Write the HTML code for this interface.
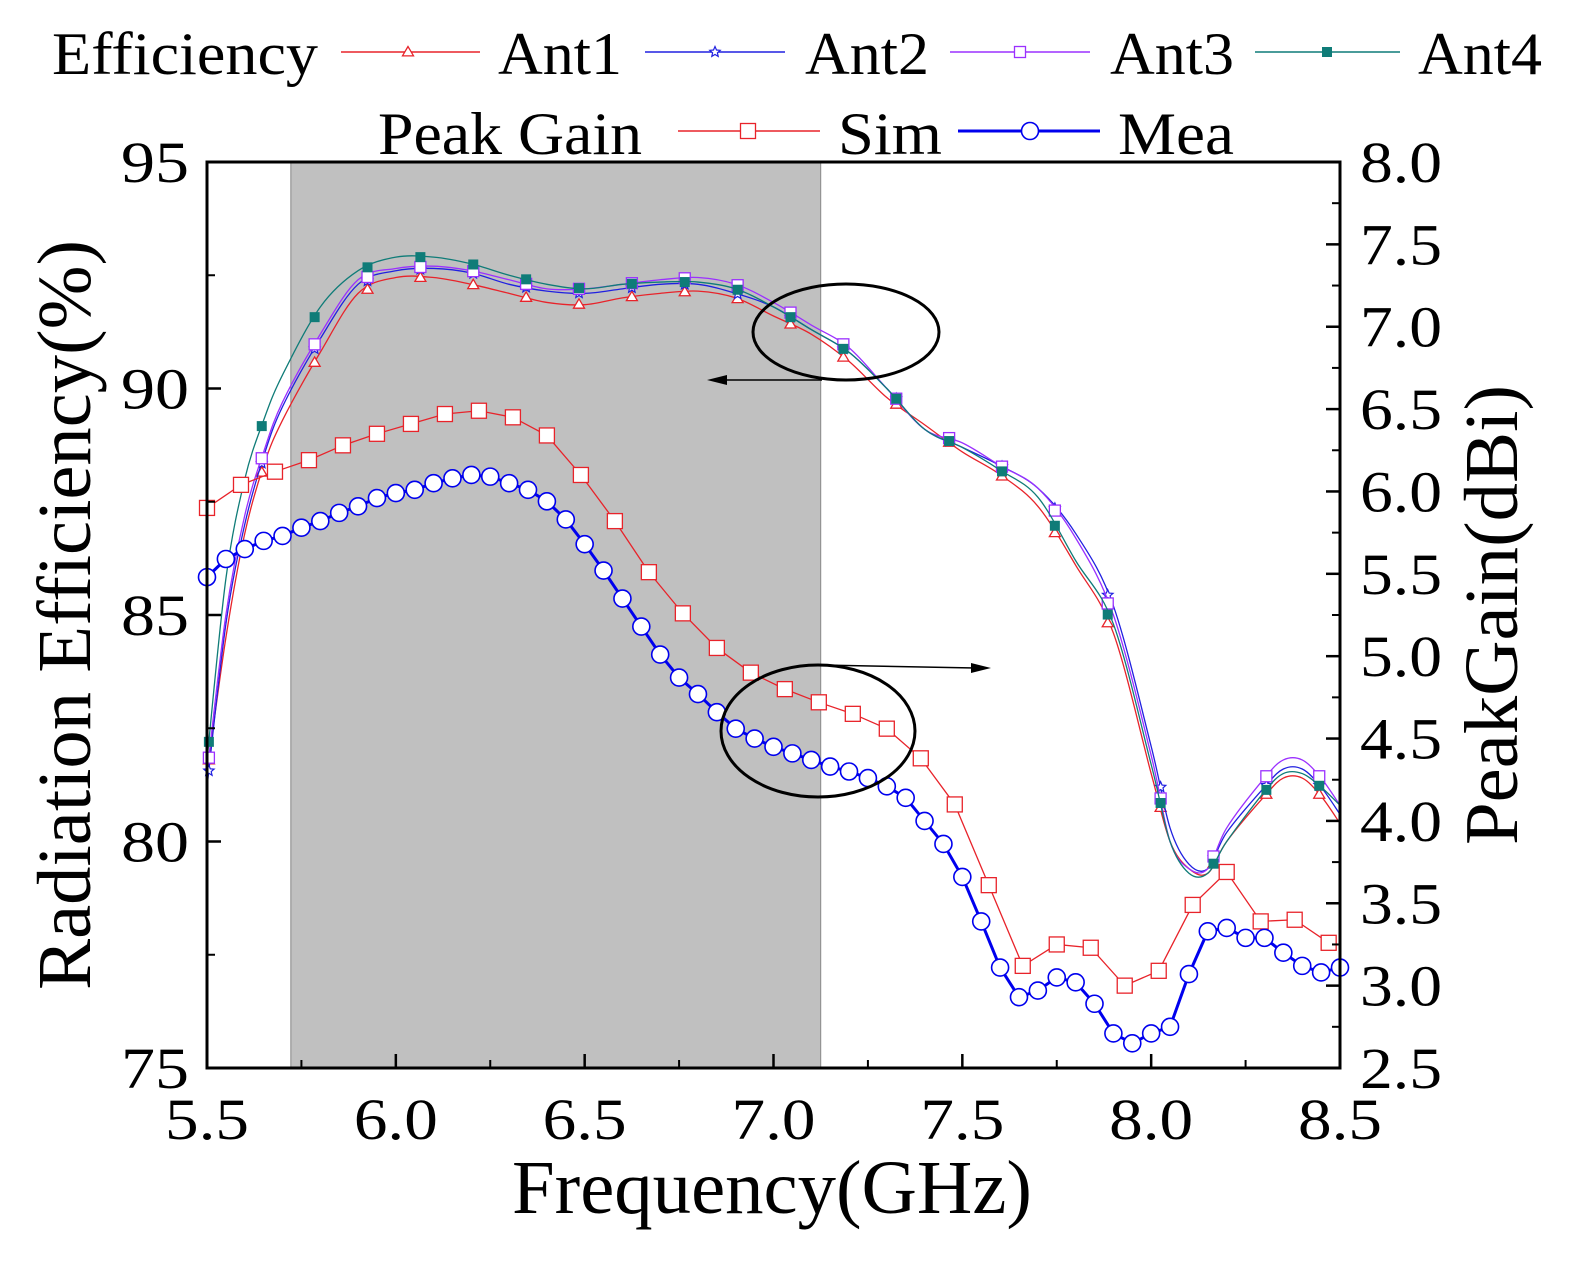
<!DOCTYPE html>
<html><head><meta charset="utf-8"><style>
html,body{margin:0;padding:0;background:#fff}
svg text{font-family:"Liberation Serif",serif;fill:#000}
</style></head><body>
<svg id="c" width="1590" height="1273" viewBox="0 0 1590 1273" xmlns="http://www.w3.org/2000/svg"></svg>
<script>
const effFreq=[5.5,5.55,5.6,5.65,5.7,5.8,5.9,6.0,6.1,6.2,6.3,6.4,6.5,6.6,6.7,6.8,6.9,7.0,7.1,7.2,7.3,7.4,7.5,7.6,7.7,7.8,7.9,8.0,8.05,8.1,8.15,8.2,8.3,8.35,8.4,8.45,8.5];
const ant1=[81.5,84.5,86.8,88.3,89.3,90.8,92.1,92.45,92.45,92.3,92.1,91.9,91.85,92.0,92.1,92.15,92.0,91.6,91.2,90.6,89.8,89.2,88.6,88.1,87.4,86.1,84.6,81.5,80.0,79.4,79.3,80.0,81.0,81.4,81.4,81.0,80.4];
const ant2=[81.2,84.8,87.0,88.5,89.6,91.1,92.3,92.6,92.65,92.55,92.3,92.15,92.1,92.2,92.3,92.3,92.1,91.8,91.3,90.8,90.0,89.1,88.7,88.3,87.8,86.8,85.2,82.1,80.3,79.5,79.4,80.2,81.2,81.6,81.6,81.2,80.6];
const ant3=[81.5,85.0,87.2,88.6,89.7,91.2,92.4,92.65,92.7,92.6,92.4,92.2,92.2,92.3,92.4,92.45,92.3,91.9,91.4,90.9,90.0,89.1,88.8,88.3,87.8,86.7,85.0,81.9,80.0,79.4,79.4,80.3,81.4,81.8,81.8,81.4,80.8];
const ant4=[81.8,85.8,88.0,89.3,90.3,91.8,92.6,92.9,92.9,92.75,92.5,92.3,92.2,92.3,92.35,92.35,92.2,91.8,91.3,90.8,90.0,89.1,88.7,88.2,87.6,86.2,84.8,81.7,80.0,79.3,79.3,80.0,81.1,81.5,81.5,81.2,80.8];
const simStart=5.5, simStep=0.09;
const simGain=[5.90,6.04,6.12,6.19,6.28,6.35,6.41,6.47,6.49,6.45,6.34,6.10,5.82,5.51,5.26,5.05,4.90,4.80,4.72,4.65,4.56,4.38,4.10,3.61,3.12,3.25,3.23,3.00,3.09,3.49,3.69,3.39,3.40,3.26];
const meaStart=5.5, meaStep=0.05;
const meaGain=[5.48,5.59,5.65,5.70,5.73,5.78,5.82,5.87,5.91,5.96,5.99,6.01,6.05,6.08,6.10,6.09,6.05,6.01,5.94,5.83,5.68,5.52,5.35,5.18,5.01,4.87,4.77,4.66,4.56,4.50,4.45,4.41,4.37,4.33,4.30,4.26,4.21,4.14,4.00,3.86,3.66,3.39,3.11,2.93,2.97,3.05,3.02,2.89,2.71,2.65,2.71,2.75,3.07,3.33,3.35,3.29,3.29,3.20,3.12,3.08,3.11];
const xTicks=[5.5,6.0,6.5,7.0,7.5,8.0,8.5];
const yTicks=[75,80,85,90,95];
const y2Ticks=[2.5,3.0,3.5,4.0,4.5,5.0,5.5,6.0,6.5,7.0,7.5,8.0];

const L=207,R=1340,T=162,B=1068;
const X=f=>L+(f-5.5)/3*(R-L);
const Y=v=>B-(v-75)/20*(B-T);
const Y2=v=>B-(v-2.5)/5.5*(B-T);
const svg=document.getElementById('c');
const NS='http://www.w3.org/2000/svg';
function el(tag,attrs,parent){const e=document.createElementNS(NS,tag);for(const k in attrs)e.setAttribute(k,attrs[k]);(parent||svg).appendChild(e);return e;}
function txt(s,x,y,size,anchor,parent,len){const a={x:x,y:y,'font-size':size,'text-anchor':anchor||'start'};if(len){a.textLength=len;a.lengthAdjust='spacingAndGlyphs';}const t=el('text',a,parent);t.textContent=s;return t;}

const band=el('rect',{x:X(5.722),y:T,width:X(7.125)-X(5.722),height:B-T,fill:'#c0c0c0',stroke:'#888','stroke-width':1});



function smoothPath(pts){let d='M'+pts[0][0]+','+pts[0][1];for(let i=0;i<pts.length-1;i++){const p0=pts[Math.max(0,i-1)],p1=pts[i],p2=pts[i+1],p3=pts[Math.min(pts.length-1,i+2)];d+=' C'+(p1[0]+(p2[0]-p0[0])/6)+','+(p1[1]+(p2[1]-p0[1])/6)+' '+(p2[0]-(p3[0]-p1[0])/6)+','+(p2[1]-(p3[1]-p1[1])/6)+' '+p2[0]+','+p2[1];}return d;}
function interp(xs,ys,x){for(let i=0;i<xs.length-1;i++){if(x>=xs[i]&&x<=xs[i+1]){const t=(x-xs[i])/(xs[i+1]-xs[i]);return ys[i]+t*(ys[i+1]-ys[i]);}}return ys[ys.length-1];}
function marker(g,type,x,y,color,s){
  if(type==='tri') el('polygon',{points:`${x},${y-s} ${x-s},${y+s*0.7} ${x+s},${y+s*0.7}`,fill:'#fff',stroke:color,'stroke-width':1.3},g);
  else if(type==='star'){let p=[];for(let i=0;i<10;i++){const r=i%2?s*0.45:s;const a=-Math.PI/2+i*Math.PI/5;p.push((x+r*Math.cos(a)).toFixed(1)+','+(y+r*Math.sin(a)).toFixed(1));}el('polygon',{points:p.join(' '),fill:'#fff',stroke:color,'stroke-width':1.2},g);}
  else if(type==='sq') el('rect',{x:x-s,y:y-s,width:2*s,height:2*s,fill:'#fff',stroke:color,'stroke-width':1.3},g);
  else if(type==='fsq') el('rect',{x:x-s,y:y-s,width:2*s,height:2*s,fill:color,stroke:color},g);
  else if(type==='circ') el('circle',{cx:x,cy:y,r:s,fill:'#fff',stroke:color,'stroke-width':1.6},g);
}
const effSeries=[[ant1,'#e8232a','tri','ant1-series'],[ant2,'#2020e0','star','ant2-series'],[ant3,'#9b30ff','sq','ant3-series'],[ant4,'#0f7c78','fsq','ant4-series']];
effSeries.forEach(([vals,col,m,name])=>{
  const g=el('g',{});
  
  
  el('path',{d:smoothPath(effFreq.map((f,i)=>[X(f),Y(vals[i])])),fill:'none',stroke:col,'stroke-width':1.3},g);
  for(let f=5.505;f<=8.5;f+=0.14){marker(g,m,X(f),Y(interp(effFreq,vals,f)),col,m==='fsq'?4.5:5.5);}
});
(function(){const g=el('g',{});


const pts=simGain.map((v,i)=>[X(simStart+i*simStep),Y2(v)]);
el('polyline',{points:pts.map(p=>p.join(',')).join(' '),fill:'none',stroke:'#e8232a','stroke-width':1.3},g);
pts.forEach(p=>marker(g,'sq',p[0],p[1],'#e8232a',7.5));})();
(function(){const g=el('g',{});


const pts=meaGain.map((v,i)=>[X(meaStart+i*meaStep),Y2(v)]);
el('polyline',{points:pts.map(p=>p.join(',')).join(' '),fill:'none',stroke:'#0000ee','stroke-width':3},g);
pts.forEach(p=>marker(g,'circ',p[0],p[1],'#0000ee',8.5));})();

const fr=el('rect',{x:L,y:T,width:R-L,height:B-T,fill:'none',stroke:'#000','stroke-width':3});


xTicks.forEach(f=>{el('line',{x1:X(f),y1:B,x2:X(f),y2:B-14,stroke:'#000','stroke-width':2.5});
  const t=txt(f.toFixed(1),X(f),1139,58,'middle',null,84);});
for(let f=5.75;f<8.5;f+=0.5)el('line',{x1:X(f),y1:B,x2:X(f),y2:B-8,stroke:'#000','stroke-width':2});
yTicks.forEach(v=>{el('line',{x1:L,y1:Y(v),x2:L+14,y2:Y(v),stroke:'#000','stroke-width':2.5});
  const t=txt(String(v),189,Y(v)+20,58,'end',null,68);});
for(let v=77.5;v<95;v+=5)el('line',{x1:L,y1:Y(v),x2:L+8,y2:Y(v),stroke:'#000','stroke-width':2});
y2Ticks.forEach(v=>{el('line',{x1:R,y1:Y2(v),x2:R-14,y2:Y2(v),stroke:'#000','stroke-width':2.5});
  const t=txt(v.toFixed(1),1360,Y2(v)+20,58,'start',null,82);});
for(let v=2.75;v<8;v+=0.5)el('line',{x1:R,y1:Y2(v),x2:R-8,y2:Y2(v),stroke:'#000','stroke-width':2});

let t=txt('Frequency(GHz)',772,1213,76,'middle',null,520);
t=txt('Radiation Efficiency(%)',0,0,76,'middle',null,750);t.setAttribute('transform','translate(90,615) rotate(-90)');
t=txt('PeakGain(dBi)',0,0,76,'middle',null,460);t.setAttribute('transform','translate(1517,615) rotate(-90)');

const ann=el('g',{});


el('ellipse',{cx:846,cy:332,rx:93,ry:48,fill:'none',stroke:'#000','stroke-width':3},ann);
el('line',{x1:822,y1:380,x2:722,y2:380,stroke:'#000','stroke-width':1.5},ann);
el('polygon',{points:'707,380 727,375 727,385',fill:'#000'},ann);
el('ellipse',{cx:818,cy:731,rx:97,ry:66,fill:'none',stroke:'#000','stroke-width':3},ann);
el('line',{x1:820,y1:665,x2:975,y2:668,stroke:'#000','stroke-width':1.5},ann);
el('polygon',{points:'991,668 971,663 971,673',fill:'#000'},ann);

const lg=el('g',{});


txt('Efficiency',52,74,60,'start',lg,266);
[[341,480,408,'Ant1',498,'#e8232a','tri'],[645,785,715,'Ant2',805,'#2020e0','star'],[950,1090,1020,'Ant3',1110,'#9b30ff','sq'],[1255,1400,1327,'Ant4',1418,'#0f7c78','fsq']].forEach(a=>{
  const g=el('g',{},lg);
  
  
  el('line',{x1:a[0],y1:52,x2:a[1],y2:52,stroke:a[5],'stroke-width':1.5},g);
  marker(g,a[6],a[2],52,a[5],a[6]==='fsq'?4.5:5.5);
  txt(a[3],a[4],74,60,'start',g,124);
});
txt('Peak Gain',378,154,60,'start',lg,264);
[[678,820,748,'Sim',838,'#e8232a','sq',1.5,7.5,104],[958,1100,1030,'Mea',1118,'#0000ee','circ',3,8.5,116]].forEach(a=>{
  const g=el('g',{},lg);
  
  
  el('line',{x1:a[0],y1:131,x2:a[1],y2:131,stroke:a[5],'stroke-width':a[7]},g);
  marker(g,a[6],a[2],131,a[5],a[8]);
  txt(a[3],a[4],154,60,'start',g,a[9]);
});
</script>
</body></html>
